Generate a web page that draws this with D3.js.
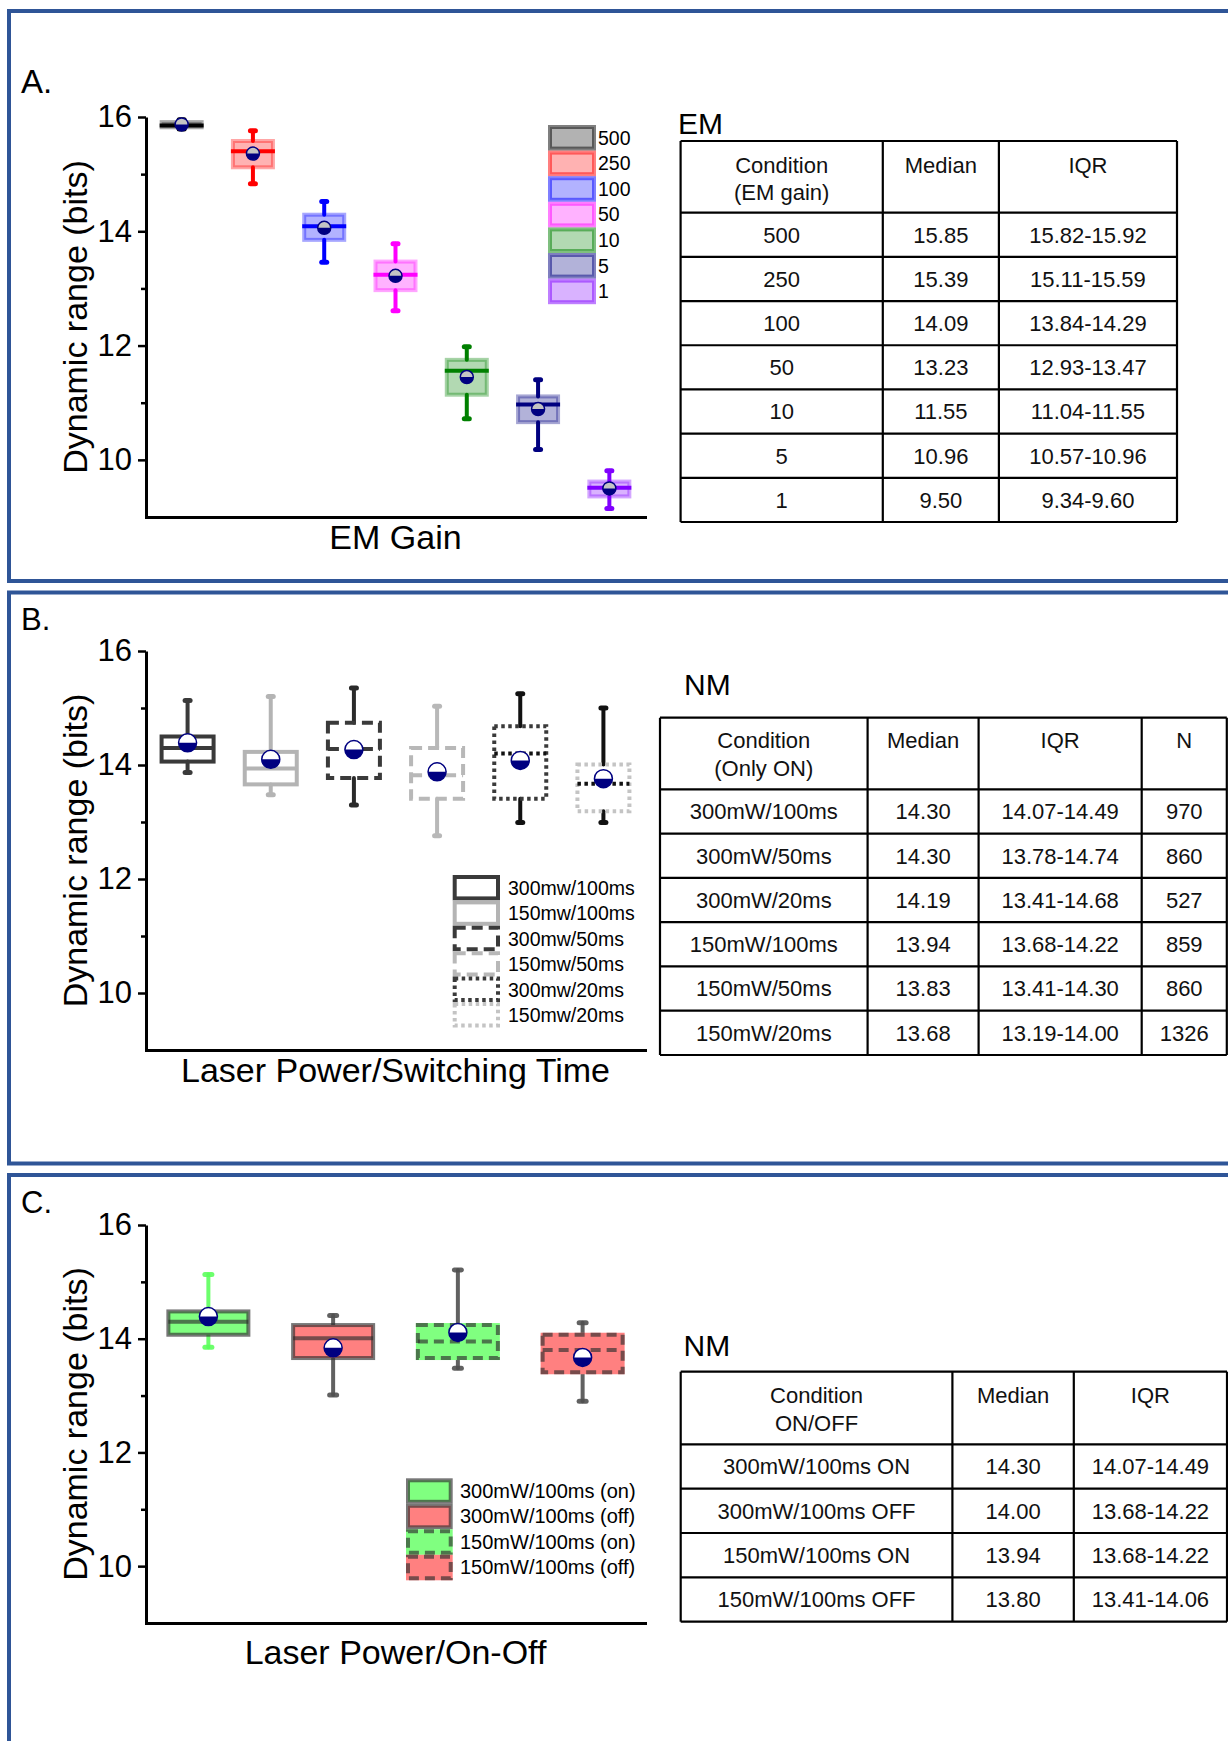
<!DOCTYPE html>
<html><head><meta charset="utf-8">
<script src="https://cdn.jsdelivr.net/npm/d3@7"></script>
<style>body{margin:0;background:#fff;} svg{display:block;}</style>
</head><body>
<script>
// ---------------- DATA ----------------
// Panel A : EM gain
const emGain = ["500","250","100","50","10","5","1"];
const emQ1   = [15.82, 15.12, 13.85, 12.97, 11.14, 10.66, 9.36];
const emMed  = [15.85, 15.40, 14.09, 13.24, 11.56, 10.97, 9.51];
const emQ3   = [15.91, 15.58, 14.29, 13.47, 11.75, 11.11, 9.62];
const emLo   = [15.79, 14.83, 13.46, 12.61, 10.72, 10.18, 9.15];
const emHi   = [15.95, 15.76, 14.52, 13.78, 11.98, 11.40, 9.81];
const emMean = [15.87, 15.36, 14.06, 13.22, 11.45, 10.89, 9.50];

// Panel B : laser power / switching time
const nmCat  = ["300mw/100ms","150mw/100ms","300mw/50ms","150mw/50ms","300mw/20ms","150mw/20ms"];
const nmQ1   = [14.06, 13.66, 13.77, 13.41, 13.41, 13.19];
const nmMed  = [14.30, 13.94, 14.28, 13.82, 14.20, 13.67];
const nmQ3   = [14.50, 14.23, 14.74, 14.30, 14.68, 14.01];
const nmLo   = [13.87, 13.48, 13.30, 12.76, 12.99, 12.99];
const nmHi   = [15.13, 15.20, 15.35, 15.03, 15.25, 15.00];
const nmMean = [14.39, 14.10, 14.27, 13.88, 14.08, 13.76];

// Panel C : on / off
const ooCat  = ["300mW/100ms (on)","300mW/100ms (off)","150mW/100ms (on)","150mW/100ms (off)"];
const ooQ1   = [14.07, 13.66, 13.66, 13.41];
const ooMed  = [14.30, 14.01, 13.95, 13.80];
const ooQ3   = [14.48, 14.24, 14.24, 14.07];
const ooLo   = [13.85, 13.01, 13.48, 12.90];
const ooHi   = [15.13, 14.41, 15.21, 14.28];
const ooMean = [14.39, 13.84, 14.11, 13.67];

const yMajorTicks = [10, 12, 14, 16];
const yMinorTicks = [11, 13, 15];

// Tables
const tEmHead   = [["Condition","(EM gain)"],["Median"],["IQR"]];
const tEmCond   = ["500","250","100","50","10","5","1"];
const tEmMedian = ["15.85","15.39","14.09","13.23","11.55","10.96","9.50"];
const tEmIQR    = ["15.82-15.92","15.11-15.59","13.84-14.29","12.93-13.47","11.04-11.55","10.57-10.96","9.34-9.60"];

const tNmHead   = [["Condition","(Only ON)"],["Median"],["IQR"],["N"]];
const tNmCond   = ["300mW/100ms","300mW/50ms","300mW/20ms","150mW/100ms","150mW/50ms","150mW/20ms"];
const tNmMedian = ["14.30","14.30","14.19","13.94","13.83","13.68"];
const tNmIQR    = ["14.07-14.49","13.78-14.74","13.41-14.68","13.68-14.22","13.41-14.30","13.19-14.00"];
const tNmN      = ["970","860","527","859","860","1326"];

const tOoHead   = [["Condition","ON/OFF"],["Median"],["IQR"]];
const tOoCond   = ["300mW/100ms ON","300mW/100ms OFF","150mW/100ms ON","150mW/100ms OFF"];
const tOoMedian = ["14.30","14.00","13.94","13.80"];
const tOoIQR    = ["14.07-14.49","13.68-14.22","13.68-14.22","13.41-14.06"];

// ---------------- DRAWING ----------------
const FONT = "'Liberation Sans', Arial, Helvetica, sans-serif";
const W = 1228, H = 1741;
const svg = d3.select("body").append("svg").attr("width", W).attr("height", H)
  .style("font-family", FONT);
svg.append("rect").attr("width", W).attr("height", H).attr("fill", "#fff");

// panel frames
const FRAME = "#2f5597";
[[11, 581], [592.5, 1163.5], [1175, 1770]].forEach(([t, b]) => {
  svg.append("rect").attr("x", 9).attr("y", t).attr("width", 1250).attr("height", b - t)
    .attr("fill", "none").attr("stroke", FRAME).attr("stroke-width", 4);
});

function txt(g, x, y, s, size, anchor) {
  return g.append("text").attr("x", x).attr("y", y).attr("font-size", size)
    .attr("text-anchor", anchor || "start").attr("fill", "#000").text(s);
}

function plotFrame(top, bottom, cats, xTitle, xTitleY) {
  const y = d3.scaleLinear().domain([9, 16]).range([bottom, top]);
  const x = d3.scaleBand().domain(cats).range([146, 645]);
  const g = svg.append("g");
  const minor = g.append("g").attr("transform", "translate(146,0)")
    .call(d3.axisLeft(y).tickValues(yMinorTicks).tickSize(5).tickSizeOuter(0).tickFormat(""));
  minor.select(".domain").remove();
  minor.selectAll("line").attr("stroke", "#000").attr("stroke-width", 2.5);
  const ya = g.append("g").attr("transform", "translate(146,0)")
    .call(d3.axisLeft(y).tickValues(yMajorTicks).tickSize(8).tickPadding(6).tickSizeOuter(0).tickFormat(d3.format("d")));
  ya.attr("font-family", FONT).attr("font-size", 31);
  ya.select(".domain").attr("stroke", "#000").attr("stroke-width", 3);
  ya.selectAll(".tick line").attr("stroke", "#000").attr("stroke-width", 2.5);
  ya.selectAll(".tick text").attr("fill", "#000");
  const xa = g.append("g").attr("transform", `translate(0,${bottom})`)
    .call(d3.axisBottom(x).tickSize(0).tickSizeOuter(0).tickFormat(""));
  xa.select(".domain").attr("stroke", "#000").attr("stroke-width", 3).attr("stroke-linecap", "square");
  // titles
  g.append("text").attr("transform", `translate(87,${(top + bottom) / 2}) rotate(-90)`)
    .attr("text-anchor", "middle").attr("font-size", 34).attr("fill", "#000").text("Dynamic range (bits)");
  txt(g, 395.5, xTitleY, xTitle, 34, "middle");
  return { x, y, g };
}

function meanMarker(g, cx, cy, r, topFill) {
  g.append("circle").attr("cx", cx).attr("cy", cy).attr("r", r).attr("fill", "#000080");
  g.append("path").attr("d", `M${cx - r},${cy} A${r},${r} 0 0 1 ${cx + r},${cy} Z`).attr("fill", topFill);
  g.append("circle").attr("cx", cx).attr("cy", cy).attr("r", r).attr("fill", "none")
    .attr("stroke", "#000080").attr("stroke-width", 1.5);
}

function whiskers(g, cx, y, lo, q1, q3, hi, color, op, capW) {
  const ln = (x1, y1, x2, y2, w) => g.append("line").attr("x1", x1).attr("y1", y1).attr("x2", x2).attr("y2", y2)
    .attr("stroke", color).attr("stroke-opacity", op).attr("stroke-width", w).attr("stroke-linecap", "round");
  ln(cx, y(hi), cx, y(q3), 4);
  ln(cx, y(q1), cx, y(lo), 4);
  ln(cx - capW / 2, y(hi), cx + capW / 2, y(hi), 5);
  ln(cx - capW / 2, y(lo), cx + capW / 2, y(lo), 5);
}

// ---------- Panel A ----------
txt(svg, 21, 93, "A.", 33);
{
  const { x, y, g } = plotFrame(117, 517, emGain, "EM Gain", 549);
  const colors = ["#000000", "#ff0000", "#0000ff", "#ff00ff", "#008000", "#000080", "#8000ff"];
  const bw = 40;
  emGain.forEach((c, i) => {
    const cx = x(c) + x.bandwidth() / 2;
    whiskers(g, cx, y, emLo[i], emQ1[i], emQ3[i], emHi[i], colors[i], 1, 5);
    g.append("rect").attr("x", cx - bw / 2).attr("y", y(emQ3[i])).attr("width", bw)
      .attr("height", y(emQ1[i]) - y(emQ3[i]))
      .attr("fill", colors[i]).attr("fill-opacity", 0.3)
      .attr("stroke", colors[i]).attr("stroke-opacity", 0.35).attr("stroke-width", 4);
    g.append("line").attr("x1", cx - bw / 2 - 2).attr("x2", cx + bw / 2 + 2)
      .attr("y1", y(emMed[i])).attr("y2", y(emMed[i]))
      .attr("stroke", colors[i]).attr("stroke-width", 4);
    meanMarker(g, cx, y(emMean[i]), 6.5, "#c4c4c4");
  });
  // legend
  const lg = svg.append("g");
  const ly = d3.scaleBand().domain(emGain).range([125, 125 + 25.6 * emGain.length]);
  emGain.forEach((c, i) => {
    lg.append("rect").attr("x", 550).attr("y", ly(c) + 2).attr("width", 44).attr("height", ly.bandwidth() - 4)
      .attr("fill", colors[i]).attr("fill-opacity", 0.3)
      .attr("stroke", colors[i]).attr("stroke-opacity", 0.5).attr("stroke-width", 4);
    txt(lg, 598, ly(c) + 19.5, c, 19.5);
  });
}

// ---------- Panel B ----------
txt(svg, 21, 630, "B.", 31);
{
  const { x, y, g } = plotFrame(651, 1050, nmCat, "Laser Power/Switching Time", 1082);
  const stroke = ["#3a3a3a", "#b4b4b4", "#3a3a3a", "#b8b8b8", "#3a3a3a", "#c4c4c4"];
  const dash = [null, null, "11,6", "11,6", "3.5,3.5", "3.5,3.5"];
  const whisk = ["#3a3a3a", "#b4b4b4", "#2a2a2a", "#b8b8b8", "#111111", "#111111"];
  const med = ["#3a3a3a", "#b4b4b4", "#3a3a3a", "#b8b8b8", "#111111", "#111111"];
  const bw = 52;
  nmCat.forEach((c, i) => {
    const cx = x(c) + x.bandwidth() / 2;
    whiskers(g, cx, y, nmLo[i], nmQ1[i], nmQ3[i], nmHi[i], whisk[i], 1, 5);
    g.append("rect").attr("x", cx - bw / 2).attr("y", y(nmQ3[i])).attr("width", bw)
      .attr("height", y(nmQ1[i]) - y(nmQ3[i])).attr("fill", "none")
      .attr("stroke", stroke[i]).attr("stroke-width", 4).attr("stroke-dasharray", dash[i]);
    g.append("line").attr("x1", cx - bw / 2).attr("x2", cx + bw / 2)
      .attr("y1", y(nmMed[i])).attr("y2", y(nmMed[i]))
      .attr("stroke", med[i]).attr("stroke-width", 4).attr("stroke-dasharray", dash[i]);
    meanMarker(g, cx, y(nmMean[i]), 9, "#ffffff");
  });
  const lg = svg.append("g");
  const ly = d3.scaleBand().domain(nmCat).range([875, 875 + 25.4 * nmCat.length]);
  nmCat.forEach((c, i) => {
    lg.append("rect").attr("x", 454.7).attr("y", ly(c) + 2).attr("width", 43.3).attr("height", ly.bandwidth() - 4)
      .attr("fill", "none").attr("stroke", stroke[i]).attr("stroke-width", 4).attr("stroke-dasharray", dash[i]);
    txt(lg, 508, ly(c) + 20, c, 19.5);
  });
}

// ---------- Panel C ----------
txt(svg, 21, 1213, "C.", 31);
{
  const { x, y, g } = plotFrame(1225, 1623, ooCat, "Laser Power/On-Off", 1664);
  const fills = ["#80ff80", "#ff8080", "#80ff80", "#ff8080"];
  const dash = [null, null, "10,6", "10,6"];
  const whisk = ["#5cff5c", "#505050", "#505050", "#505050"];
  const border = "#2e2e2e";
  const bw = 80;
  ooCat.forEach((c, i) => {
    const cx = x(c) + x.bandwidth() / 2;
    whiskers(g, cx, y, ooLo[i], ooQ1[i], ooQ3[i], ooHi[i], whisk[i], 0.9, 7);
    const r = g.append("rect").attr("x", cx - bw / 2).attr("y", y(ooQ3[i])).attr("width", bw)
      .attr("height", y(ooQ1[i]) - y(ooQ3[i])).attr("fill", fills[i]);
    if (dash[i]) r.attr("stroke", fills[i]).attr("stroke-width", 4);
    g.append("rect").attr("x", cx - bw / 2).attr("y", y(ooQ3[i])).attr("width", bw)
      .attr("height", y(ooQ1[i]) - y(ooQ3[i])).attr("fill", "none")
      .attr("stroke", border).attr("stroke-opacity", 0.65).attr("stroke-width", 4).attr("stroke-dasharray", dash[i]);
    g.append("line").attr("x1", cx - bw / 2).attr("x2", cx + bw / 2)
      .attr("y1", y(ooMed[i])).attr("y2", y(ooMed[i]))
      .attr("stroke", border).attr("stroke-opacity", 0.65).attr("stroke-width", 4).attr("stroke-dasharray", dash[i]);
    meanMarker(g, cx, y(ooMean[i]), 9, "#ffffff");
  });
  const lg = svg.append("g");
  const ly = d3.scaleBand().domain(ooCat).range([1478.3, 1478.3 + 25.5 * ooCat.length]);
  ooCat.forEach((c, i) => {
    const rr = lg.append("rect").attr("x", 408).attr("y", ly(c) + 2).attr("width", 42.7).attr("height", ly.bandwidth() - 4)
      .attr("fill", fills[i]);
    if (dash[i]) rr.attr("stroke", fills[i]).attr("stroke-width", 4);
    lg.append("rect").attr("x", 408).attr("y", ly(c) + 2).attr("width", 42.7).attr("height", ly.bandwidth() - 4)
      .attr("fill", "none").attr("stroke", border).attr("stroke-opacity", 0.65).attr("stroke-width", 4)
      .attr("stroke-dasharray", dash[i]);
    txt(lg, 460, ly(c) + 19.5, c, 20);
  });
}

// ---------- Tables ----------
function drawTable(title, titleX, titleY, xs, top, headBottom, bottom, head, cols, b1, b2) {
  const g = svg.append("g");
  txt(g, titleX, titleY, title, 30);
  const n = cols[0].length;
  const rows = d3.scaleBand().domain(d3.range(n)).range([headBottom, bottom]);
  const line = (x1, y1, x2, y2) => g.append("line").attr("x1", x1).attr("y1", y1).attr("x2", x2).attr("y2", y2)
    .attr("stroke", "#000").attr("stroke-width", 2.2);
  xs.forEach(xv => line(xv, top, xv, bottom));
  line(xs[0], top, xs[xs.length - 1], top);
  line(xs[0], bottom, xs[xs.length - 1], bottom);
  d3.range(n).forEach(r => line(xs[0], rows(r), xs[xs.length - 1], rows(r)));
  head.forEach((lines, j) => {
    const cx = (xs[j] + xs[j + 1]) / 2;
    lines.forEach((s, k) => txt(g, cx, top + (k === 0 ? b1 : b2), s, 22, "middle").attr("fill", "#111"));
  });
  cols.forEach((col, j) => {
    const cx = (xs[j] + xs[j + 1]) / 2;
    col.forEach((s, r) => txt(g, cx, rows(r) + rows.bandwidth() / 2 + 7.8, s, 22, "middle").attr("fill", "#111"));
  });
}

drawTable("EM", 678, 134, [680.6, 882.8, 998.9, 1177], 141, 212.7, 522,
  tEmHead, [tEmCond, tEmMedian, tEmIQR], 31.7, 59);
drawTable("NM", 684, 695, [660, 867.6, 978.6, 1141.7, 1226.8], 717.7, 789.3, 1055,
  tNmHead, [tNmCond, tNmMedian, tNmIQR, tNmN], 30.6, 58.3);
drawTable("NM", 683.5, 1355.7, [680.7, 952.4, 1073.8, 1227], 1371.7, 1444.3, 1621.7,
  tOoHead, [tOoCond, tOoMedian, tOoIQR], 31.6, 59);
</script>
</body></html>
